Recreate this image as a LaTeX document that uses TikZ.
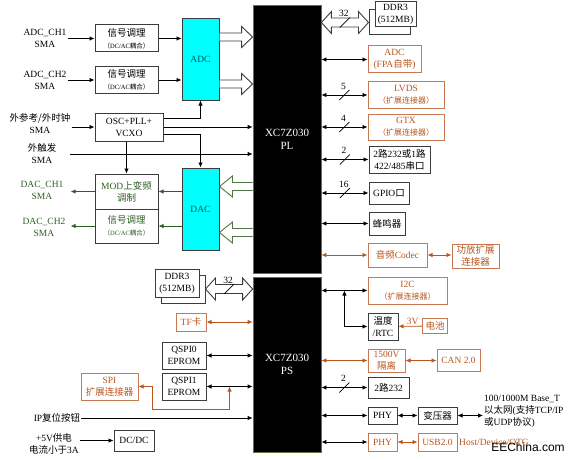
\documentclass[tikz,border=0pt]{standalone}
\usepackage{fontspec}
\setmainfont{Liberation Serif}
\newfontfamily\cjk{Noto Sans CJK SC}
\newfontfamily\wmfont{Liberation Sans}
\usetikzlibrary{arrows.meta,calc}

\definecolor{boxgray}{RGB}{60,60,60}
\definecolor{brn}{RGB}{185,85,30}
\definecolor{brnline}{RGB}{200,120,80}
\definecolor{grn}{RGB}{45,95,35}
\definecolor{grnline}{RGB}{80,120,70}
\definecolor{cyanfill}{RGB}{0,255,255}
\definecolor{adctxt}{RGB}{0,85,85}
\definecolor{chipline}{RGB}{110,110,70}

\newcommand\zh[1]{{\cjk #1}}
\newcommand\smalltxt[1]{{\fontsize{6.5}{8}\selectfont #1}}
\newcommand\midtxt[1]{{\fontsize{8}{10}\selectfont #1}}

\newcommand\fatR[3]{\draw[#1] ($(#2)+(0,-4)$) -- ($(#3)+(-11,-4)$) -- ($(#3)+(-11,-10.5)$) -- (#3) -- ($(#3)+(-11,10.5)$) -- ($(#3)+(-11,4)$) -- ($(#2)+(0,4)$);}
\newcommand\fatL[3]{\draw[#1] ($(#2)+(0,-4)$) -- ($(#3)+(13,-4)$) -- ($(#3)+(13,-10.5)$) -- (#3) -- ($(#3)+(13,10.5)$) -- ($(#3)+(13,4)$) -- ($(#2)+(0,4)$);}
\newcommand\fatLR[3]{\draw[#1] (#2) -- ($(#2)+(10,-11)$) -- ($(#2)+(10,-4.5)$) -- ($(#3)+(-10,-4.5)$) -- ($(#3)+(-10,-11)$) -- (#3) -- ($(#3)+(-10,11)$) -- ($(#3)+(-10,4.5)$) -- ($(#2)+(10,4.5)$) -- ($(#2)+(10,11)$) -- cycle;}
\newcommand\busmark[2]{\draw[line width=0.7pt] ($(#1)+(-5,5)$) -- ($(#1)+(5,-5)$); \node[lbl] (#1l) at ($(#1)+(-1,-9)$) {#2};}

\tikzset{
	lbl/.style={inner sep=1pt, align=center, font=\fontsize{9.5}{12}\selectfont},
	box/.style={lbl, draw=boxgray, line width=1pt, fill=white},
	bbox/.style={box, draw=brnline, text=brn},
	gbox/.style={box, text=grn},
	conv/.style={box, fill=cyanfill, text=adctxt},
	chip/.style={draw=chipline, line width=0.8pt, fill=black, text=white, align=center, font=\fontsize{11}{13}\selectfont, minimum width=68pt},
	ar/.style={-{Latex[length=5pt,width=4.5pt]}, line width=0.8pt},
	dar/.style={{Latex[length=5pt,width=4.5pt]}-{Latex[length=5pt,width=4.5pt]}, line width=0.8pt},
	bar/.style={ar, draw=brn},
	bdar/.style={dar, draw=brn},
	gar/.style={ar, draw=grn},
	fat/.style={draw=boxgray, line width=0.9pt, fill=white, line join=miter},
	gfat/.style={fat, draw=grnline}
}

\begin{document}
\begin{tikzpicture}[x=1pt, y=-1pt]
	\useasboundingbox (0,0) rectangle (573,460);
	\node[chip, minimum height=268pt] (pl) at (287,139) {XC7Z030\\PL};
	\node[chip, minimum height=175pt] (ps) at (287,364.5) {XC7Z030\\PS};
%%%%%%%%%%%
	\node[lbl] (ch1) at (45,38.5) {ADC\_CH1\\SMA};
	\node[box, minimum width=63pt, minimum height=27pt] (sig1) at (126.5,38.5) {\zh{信号调理}\\\smalltxt{\zh{（}DC/AC\zh{耦合）}}};
	\node[lbl] (ch2) at (45,80) {ADC\_CH2\\SMA};
	\node[box, minimum width=63pt, minimum height=26pt] (sig2) at (126.5,80) {\zh{信号调理}\\\smalltxt{\zh{（}DC/AC\zh{耦合）}}};
	\node[conv, minimum width=37pt, minimum height=81pt] (adc) at (200.5,59.5) {ADC};
	\draw[ar] (ch1) -- (sig1);
	\draw[ar] (ch2) -- (sig2);
	\draw[ar] (sig1) -- (sig1 -| adc.west);
	\draw[ar] (sig2) -- (sig2 -| adc.west);
	\coordinate (a1) at (adc.east |- 0,37);
	\coordinate (a1t) at (pl.west |- 0,37);
	\coordinate (a2) at (adc.east |- 0,84);
	\coordinate (a2t) at (pl.west |- 0,84);
	\fatR{fat}{a1}{a1t}
	\fatR{fat}{a2}{a2t}
%%%%%%%%%%%
	\node[lbl] (clk) at (40,124) {\zh{外参考/外时钟}\\SMA};
	\node[box, minimum width=68pt, minimum height=28pt] (osc) at (129,127) {OSC+PLL+\\VCXO};
	\node[lbl] (trig) at (42,154) {\zh{外触发}\\SMA};
	\draw[ar] (clk.east |- osc) -- (osc.west);
	\draw[ar] ([yshift=9pt]osc.east) -| (adc.south);
	\draw[ar] (osc.east) -- (osc.east -| pl.west);
	\draw[ar] ([xshift=13pt]trig.east) -- (trig.east -| pl.west);
%%%%%%%%%%%
	\node[lbl, text=grn] (dac1) at (42,190) {DAC\_CH1\\SMA};
	\node[lbl, text=grn] (dac2) at (44,227) {DAC\_CH2\\SMA};
	\node[gbox, minimum width=63pt, minimum height=35pt] (mod) at (126.5,191.5) {MOD\zh{上变频}\\\zh{调制}};
	\node[gbox, minimum width=63pt, minimum height=34pt] (sig3) at (126.5,226) {\zh{信号调理}\\\smalltxt{\zh{（}DC/AC\zh{耦合）}}};
	\node[conv, minimum width=37pt, minimum height=82pt] (dac) at (200.5,209) {DAC};
	\draw[ar] ([yshift=-7pt]osc.east) -| (dac.north);
	\draw[ar] (osc.south -| mod.north) -- (mod.north);
	\draw[gar] (dac.west |- mod) -- (mod.east);
	\draw[gar] (dac.west |- sig3) -- (sig3.east);
	\coordinate (d1e) at ($(dac1.east)+(6,0)$);
	\coordinate (d2e) at ($(dac2.east)+(4,0)$);
	\draw[gar] (mod.west) -- (mod.west -| d1e);
	\draw[gar] (sig3.west) -- (sig3.west -| d2e);
	\coordinate (d1) at (pl.west |- 0,186.5);
	\coordinate (d1t) at (dac.east |- 0,186.5);
	\coordinate (d2) at (pl.west |- 0,232.5);
	\coordinate (d2t) at (dac.east |- 0,232.5);
	\fatL{gfat}{d1}{d1t}
	\fatL{gfat}{d2}{d2t}
%%%%%%%%%%%
	\node[box, minimum width=41pt, minimum height=25pt] (ddra) at (389.5,22.5) {};
	\node[box, minimum width=41pt, minimum height=25pt] (ddraf) at (395.5,14.5) {DDR3\\(512MB)};
	\coordinate (m1) at (pl.east |- ddra);
	\fatLR{fat}{m1}{ddra.west}
	\coordinate (b32a) at ($(m1)!0.5!(ddra.west)$);
	\busmark{b32a}{32}
	\node[bbox, minimum width=53pt, minimum height=27pt] (adcf) at (394.5,59.5) {ADC\\(FPA\zh{自带})};
	\node[bbox, minimum width=76pt, minimum height=26pt] (lvds) at (406,95) {LVDS\\\midtxt{\zh{（扩展连接器）}}};
	\node[bbox, minimum width=76pt, minimum height=26pt] (gtx) at (406,127) {GTX\\\midtxt{\zh{（扩展连接器）}}};
	\node[box, minimum width=61pt, minimum height=27pt] (uart) at (399.5,159.5) {2\zh{路}232\zh{或}1\zh{路}\\422/485\zh{串口}};
	\node[box, minimum width=40pt, minimum height=22pt] (gpio) at (389,193) {GPIO\zh{口}};
	\node[box, minimum width=36pt, minimum height=23pt] (buzz) at (387,223.5) {\zh{蜂鸣器}};
	\node[bbox, minimum width=59pt, minimum height=24pt] (codec) at (397.5,255) {\zh{音频}Codec};
	\node[bbox, minimum width=47pt, minimum height=24pt] (amp) at (475.5,256) {\zh{功放扩展}\\\zh{连接器}};
	\draw[dar] (pl.east |- adcf) -- (adcf.west);
	\draw[dar] (pl.east |- lvds) -- (lvds.west);
	\draw[dar] (pl.east |- gtx) -- (gtx.west);
	\draw[dar] (pl.east |- uart) -- (uart.west);
	\draw[dar] (pl.east |- gpio) -- (gpio.west);
	\draw[dar] (pl.east |- buzz) -- (buzz.west);
	\draw[bdar] (pl.east |- codec) -- (codec.west);
	\draw[bdar] (codec.east) -- (codec.east -| amp.west);
	\coordinate (b5) at ($(pl.east |- lvds)!0.5!(lvds.west)$);
	\coordinate (b4) at ($(pl.east |- gtx)!0.5!(gtx.west)$);
	\coordinate (b2a) at ($(pl.east |- uart)!0.5!(uart.west)$);
	\coordinate (b16) at ($(pl.east |- gpio)!0.5!(gpio.west)$);
	\busmark{b5}{5}
	\busmark{b4}{4}
	\busmark{b2a}{2}
	\busmark{b16}{16}
%%%%%%%%%%%
	\node[box, minimum width=44pt, minimum height=28pt] (ddrb) at (183,289) {};
	\node[box, minimum width=44pt, minimum height=28pt] (ddrbf) at (177,283) {DDR3\\(512MB)};
	\coordinate (m2) at (ps.west |- ddrb);
	\fatLR{fat}{ddrb.east}{m2}
	\coordinate (b32b) at ($(ddrb.east)!0.5!(m2)$);
	\busmark{b32b}{32}
	\node[bbox, minimum width=30pt, minimum height=18pt] (tf) at (191,322) {TF\zh{卡}};
	\node[box, minimum width=44pt, minimum height=27pt] (qspi0) at (184,355.5) {QSPI0\\EPROM};
	\node[box, minimum width=44pt, minimum height=27pt] (qspi1) at (184,386.5) {QSPI1\\EPROM};
	\node[bbox, minimum width=57pt, minimum height=27pt] (spi) at (109.5,386.5) {SPI\\\zh{扩展连接器}};
	\draw[bdar] (tf) -- (tf -| ps.west);
	\draw[dar] (qspi0) -- (qspi0 -| ps.west);
	\draw[dar] (qspi1) -- (qspi1 -| ps.west);
	\coordinate (spij) at ($(qspi1.east)!0.5!(qspi1.east -| ps.west)$);
	\draw[bdar] (spi.east) -- ++(14,0) |- ($(spij)+(0,23)$) -- (spij);
	\node[lbl] (rst) at (57,418) {IP\zh{复位按钮}};
	\draw[ar] (rst) -- (rst -| ps.west);
	\node[lbl] (pwr) at (54,444) {+5V\zh{供电}\\\zh{电流小于}3A};
	\node[box, minimum width=40pt, minimum height=21pt] (dcdc) at (134,440.5) {DC/DC};
	\draw[ar] (pwr.east |- dcdc) -- (dcdc);
%%%%%%%%%%%
	\node[bbox, minimum width=79pt, minimum height=27pt] (i2c) at (407.5,290.5) {I2C\\\midtxt{\zh{（扩展连接器）}}};
	\node[box, minimum width=30pt, minimum height=27pt] (rtc) at (383,326.5) {\zh{温度}\\/RTC};
	\node[bbox, minimum width=25pt, minimum height=15pt] (bat) at (435,326) {\zh{电池}};
	\node[bbox, minimum width=37pt, minimum height=23pt] (iso) at (386.5,360.5) {1500V\\\zh{隔离}};
	\node[bbox, minimum width=43pt, minimum height=22pt] (can) at (458.5,360.5) {CAN 2.0};
	\node[box, minimum width=41pt, minimum height=21pt] (u232) at (388.5,387.5) {2\zh{路}232};
	\node[box, minimum width=29pt, minimum height=17pt] (phy1) at (382.5,415.5) {PHY};
	\node[box, minimum width=39pt, minimum height=17pt] (xfmr) at (437.5,415.5) {\zh{变压器}};
	\node[bbox, minimum width=29pt, minimum height=18pt] (phy2) at (382.5,442) {PHY};
	\node[bbox, minimum width=39pt, minimum height=18pt] (usb) at (437.5,442) {USB2.0};
	\draw[dar] (ps.east |- i2c) -- (i2c.west);
	\coordinate (i2cj) at ($(ps.east |- i2c)!0.5!(i2c.west)$);
	\draw[dar] (i2cj) |- (rtc.west);
	\draw[bar] (bat) -- (rtc) node[lbl, pos=0.4, above, text=brn] (v3) {3V};
	\draw[bdar] (ps.east |- iso) -- (iso.west);
	\draw[bdar] (iso) -- (can);
	\draw[dar] (ps.east |- u232) -- (u232.west);
	\coordinate (b2b) at ($(ps.east |- u232)!0.5!(u232.west)$);
	\busmark{b2b}{2}
	\draw[dar] (ps.east |- phy1) -- (phy1.west);
	\draw[dar] (phy1) -- (xfmr);
	\coordinate (ethend) at (483,415.5);
	\draw[dar] (xfmr.east) -- (ethend);
	\node[lbl, anchor=west, align=left] (eth) at (483,411) {100/1000M Base\_T\\\zh{以太网}(\zh{支持}TCP/IP\\\zh{或}UDP\zh{协议})};
	\draw[dar] (ps.east |- phy2) -- (phy2.west);
	\draw[bdar] (phy2) -- (usb);
	\node[lbl, anchor=west, text=brn] (otg) at (458,442) {Host/Device/OTG};
	\node[inner sep=0pt, font=\wmfont\fontsize{12}{12}\selectfont] (wm) at (528,447) {EEChina.com};
\end{tikzpicture}
\end{document}
